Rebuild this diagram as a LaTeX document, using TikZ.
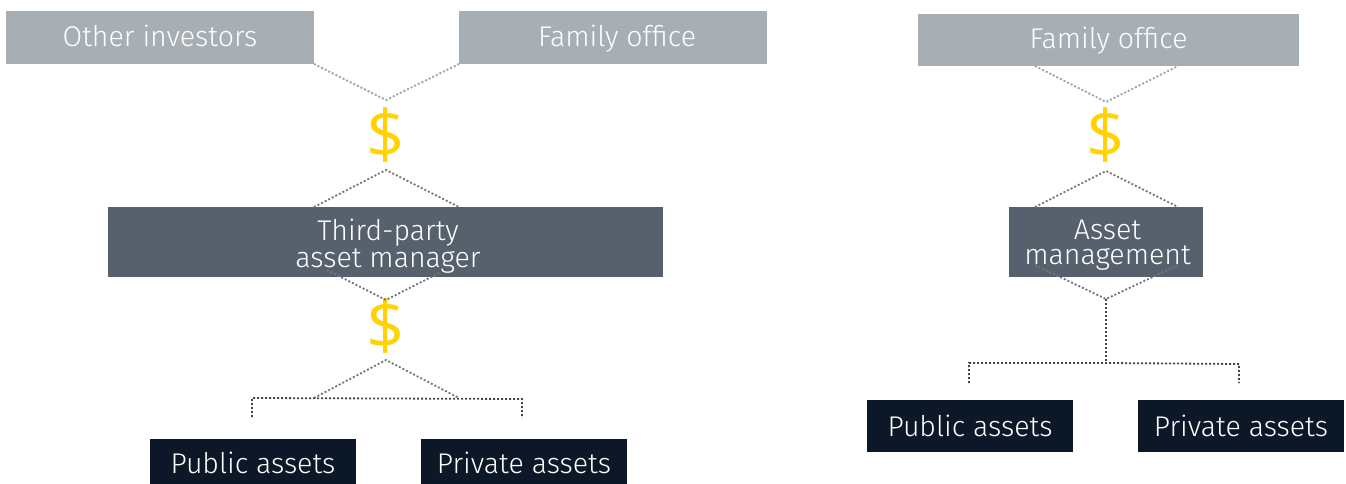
\documentclass[tikz,border=0pt]{standalone}
\usepackage{fontspec}
\setmainfont{Fira Sans Light}
\newfontfamily\moneyfont{Open Sans}
\definecolor{lightbox}{HTML}{A7AFB5}
\definecolor{midbox}{HTML}{56616D}
\definecolor{darkbox}{HTML}{0C1728}
\definecolor{dollar}{HTML}{FFD200}
\definecolor{lightdot}{HTML}{9AA1A8}
\definecolor{middot}{HTML}{70757F}
\definecolor{darkdot}{HTML}{44464F}
\tikzset{
  box/.style={inner sep=0pt,outer sep=0pt,align=center,text=white,font=\fontsize{28.5}{27}\selectfont},
  investor/.style={box,fill=lightbox,text height=22pt,text depth=4pt},
  manager/.style={box,fill=midbox},
  asset/.style={box,fill=darkbox,minimum width=206pt,minimum height=52pt,text height=22pt,text depth=2pt},
  money/.style={inner sep=0pt,text=dollar,font=\moneyfont\fontsize{67}{67}\selectfont},
  dots/.style={line width=1.8pt,dash pattern=on 2pt off 2pt},
}
\begin{document}
\begin{tikzpicture}[x=1pt,y=-1pt]
\useasboundingbox (0,0) rectangle (1346,484);
% left side
\node[investor,minimum width=308pt,minimum height=53pt] (other) at (160,37.5) {Other investors};
\node[investor,minimum width=308pt,minimum height=53pt] (family) at (613,37.5) {\hspace*{8pt}Family office};
\node[manager,minimum width=555pt,minimum height=70pt] (third) at (385.5,242) {\rule{0pt}{30pt}\hspace*{5pt}Third-party\\\hspace*{5pt}asset manager};
\node[asset,minimum height=45pt,text height=24pt,text depth=1pt] (public) at (253,461.5) {Public assets};
\node[asset,minimum height=45pt,text height=24pt,text depth=1pt] (private) at (524,461.5) {Private assets};
\node[money] (usdA) at (386,135) {\$};
\node[money] (usdB) at (386,326) {\$};
\coordinate (A) at (386,100);
\coordinate (B) at (386,170);
\coordinate (C) at (386,300);
\coordinate (D) at (386,360);
\coordinate (E) at (314,398);
\coordinate (F) at (459,398);
\coordinate (G) at (252,417);
\coordinate (H) at (522,418);
\coordinate (I) at (252,398);
\coordinate (J) at (522,399);
\coordinate (K) at (327,270);
\coordinate (L) at (441,272);
\coordinate (M) at (314,207);
\coordinate (N) at (459,207);
\draw[dots,lightdot] (other.south east)--(A)--(family.south west);
\draw[dots,middot] (M)--(B)--(N);
\draw[dots,middot] (K)--(C)--(L);
\draw[dots,middot] (E)--(D)--(F);
\draw[dots,darkdot] (G)--(I)--(J)--(H);
% right side
\node[investor,minimum width=381pt,minimum height=52pt] (familyR) at (1108.5,40) {Family office};
\node[manager,minimum width=194pt,minimum height=70pt,font=\fontsize{28.5}{25}\selectfont] (mgmt) at (1106,242) {\rule{0pt}{25pt}\hspace*{3pt}Asset\\\hspace*{3pt}management};
\node[asset] (publicR) at (970,426) {Public assets};
\node[asset] (privateR) at (1241,426) {Private assets};
\node[money] (usdC) at (1106,135) {\$};
\coordinate (a) at (1106,102);
\coordinate (b) at (1106,171);
\coordinate (c) at (1106,299);
\coordinate (d) at (1106,363);
\coordinate (e) at (969,383);
\coordinate (f) at (1239,383);
\coordinate (g) at (969,363);
\coordinate (h) at (1239,364);
\coordinate (i) at (1035,66);
\coordinate (j) at (1178,66);
\coordinate (k) at (1035,207);
\coordinate (l) at (1178,207);
\coordinate (m) at (1035,265);
\coordinate (n) at (1178,265);
\draw[dots,lightdot] (i)--(a)--(j);
\draw[dots,middot] (k)--(b)--(l);
\draw[dots,middot] (m)--(c)--(n);
\draw[dots,darkdot] (c)--(d);
\draw[dots,darkdot] (e)--(g)--(d)--(h)--(f);
\end{tikzpicture}
\end{document}
